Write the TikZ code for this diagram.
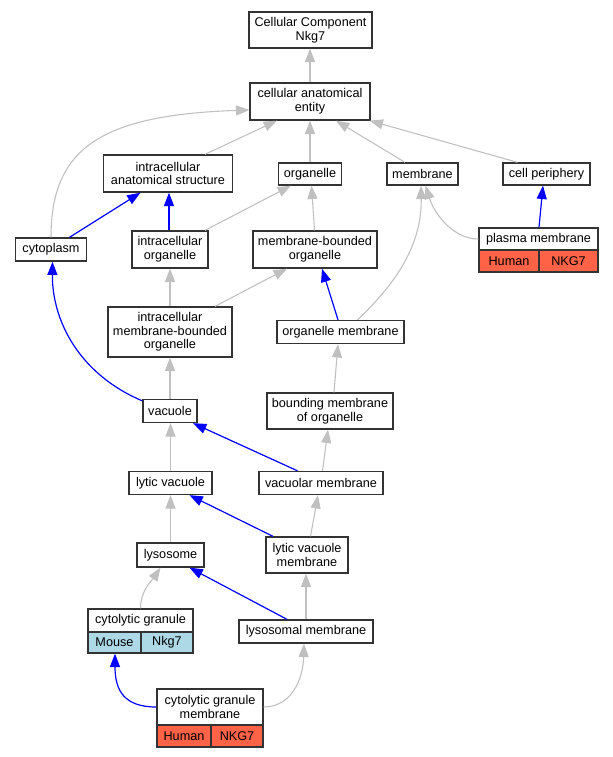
\documentclass[tikz,border=0pt]{standalone}
\usepackage{fontspec}
\setmainfont{Liberation Sans}
\usetikzlibrary{arrows.meta,calc}
\definecolor{edgegray}{HTML}{C0C0C0}
\definecolor{tomatored}{HTML}{FF6347}
\definecolor{lblue}{HTML}{ADD8E6}
\definecolor{boxline}{HTML}{333333}
\begin{document}
\begin{tikzpicture}[x=0.75pt,y=-0.75pt,
  box/.style={draw=boxline, line width=1pt, fill=white, inner sep=0pt, align=center, font=\fontsize{9.5}{10.2}\selectfont},
  sz/.style 2 args={minimum width=#1*0.75pt, minimum height=#2*0.75pt},
  gedge/.style={draw=edgegray, line width=0.8pt, -{Triangle[length=10pt,width=7.5pt,fill=edgegray]}},
  bedge/.style={draw=blue, line width=0.9pt, -{Triangle[length=10pt,width=7.5pt,fill=blue]}},
]
\useasboundingbox[fill=white] (0,0) rectangle (612,757);
\node[box,sz={123}{36}] (ccn) at (310.5,30) {Cellular Component\\Nkg7};
\node[box,sz={120}{37}] (cae) at (310,101.5) {cellular anatomical\\entity};
\node[box,sz={129}{37}] (ias) at (168,173.5) {intracellular\\anatomical structure};
\node[box,sz={63}{22}] (org) at (310,174) {organelle};
\node[box,sz={71}{22}] (mem) at (422.5,174) {membrane};
\node[box,sz={87}{22}] (cper) at (546.5,174) {cell periphery};
\node[box,sz={71}{23}] (cyto) at (51,249.5) {cytoplasm};
\node[box,sz={76}{37}] (io) at (170,249.5) {intracellular\\organelle};
\node[box,sz={124}{37}] (mbo) at (315,249.5) {membrane-bounded\\organelle};
\node[box,sz={119}{22}] (pm) at (538.5,239) {plasma membrane};
\node[box,fill=tomatored,sz={60}{22}] (pmh) at (509,261) {Human};
\node[box,fill=tomatored,sz={59}{22}] (pmg) at (568.5,261) {NKG7};
\node[box,sz={124}{50}] (imbo) at (170,332) {intracellular\\membrane-bounded\\organelle};
\node[box,sz={127}{23}] (om) at (340.5,332) {organelle membrane};
\node[box,sz={54}{23}] (vac) at (170,411) {vacuole};
\node[box,sz={126}{36}] (bmo) at (330,411) {bounding membrane\\of organelle};
\node[box,sz={83}{23}] (lv) at (170.5,483) {lytic vacuole};
\node[box,sz={124}{23}] (vm) at (321,483) {vacuolar membrane};
\node[box,sz={67}{24}] (lys) at (170.5,555) {lysosome};
\node[box,sz={82}{36}] (lvm) at (307,555) {lytic vacuole\\membrane};
\node[box,sz={105}{23}] (cg) at (140.5,620.5) {cytolytic granule};
\node[box,fill=lblue,sz={53}{21}] (cgmo) at (114.5,642.5) {Mouse};
\node[box,fill=lblue,sz={52}{21}] (cgnk) at (167,642.5) {Nkg7};
\node[box,sz={134}{23}] (lm) at (306,631.5) {lysosomal membrane};
\node[box,sz={106}{36}] (cgm) at (210,707) {cytolytic granule\\membrane};
\node[box,fill=tomatored,sz={54}{22}] (cgmh) at (184,736) {Human};
\node[box,fill=tomatored,sz={52}{22}] (cgmg) at (237,736) {NKG7};

\draw[gedge] (cae.north) -- (cae.north |- ccn.south);
\draw[gedge] (cyto.north) .. controls ($(cyto.north)+(0,-88)$) and ($(cae.west)+(-150,13.5)$) .. ($(cae.west)+(0,8.5)$);
\draw[gedge] ($(ias.north)+(37,0)$) -- ($(cae.south)+(-33,0)$);
\draw[gedge] (org.north) -- (org.north |- cae.south);
\draw[gedge] ($(mem.north)+(-17.5,0)$) -- ($(cae.south)+(26,0)$);
\draw[gedge] ($(cper.north)+(-29,0)$) -- ($(cae.south east)+(-1,0)$);
\draw[bedge] ($(cyto.north)+(18.5,0)$) -- ($(ias.south)+(-27.5,0)$);
\draw[bedge] ($(io.north)+(-1,0)$) -- ($(ias.south)+(1,0)$);
\draw[gedge] ($(io.north)+(35,0)$) -- ($(org.south)+(-19,0)$);
\draw[gedge] ($(mbo.north)+(-0.5,0)$) -- ($(org.south)+(1.5,0)$);
\draw[gedge] (pm.west) .. controls ($(pm.west)+(-24,0)$) and ($(mem.south)+(12.5,30)$) .. ($(mem.south)+(3,0)$);
\draw[bedge] ($(pm.north)+(0.5,0)$) -- ($(cper.south)+(-3.5,0)$);
\draw[gedge] ($(om.north)+(17,0)$) .. controls ($(om.north)+(54.5,-35.5)$) and ($(mem.south)+(-0.5,60)$) .. ($(mem.south)+(-1.5,0)$);
\draw[gedge] (imbo.north) -- (imbo.north |- io.south);
\draw[gedge] ($(imbo.north)+(45,0)$) -- ($(mbo.south)+(-28,0)$);
\draw[bedge] ($(om.north)+(-2.5,0)$) -- ($(mbo.south)+(7,0)$);
\draw[gedge] (vac.north) -- (vac.north |- imbo.south);
\draw[bedge] ($(vac.north west)+(0,2)$) .. controls ($(vac.north west)+(-63,-24.5)$) and ($(cyto.south)+(1,59)$) .. ($(cyto.south)+(1.5,0)$);
\draw[gedge] ($(bmo.north)+(4,0)$) -- ($(om.south)+(-2.5,0)$);
\draw[gedge] (lv.north) -- (lv.north |- vac.south);
\draw[bedge] ($(vm.north)+(-23.5,0)$) -- ($(vac.south)+(23,0)$);
\draw[gedge] ($(vm.north)+(1.5,0)$) -- ($(bmo.south)+(-2,0)$);
\draw[gedge] (lys.north) -- (lys.north |- lv.south);
\draw[bedge] ($(lvm.north)+(-34,0)$) -- ($(lv.south)+(19,0)$);
\draw[gedge] ($(lvm.north)+(3.5,0)$) -- ($(vm.south)+(-3,0)$);
\draw[gedge] (cg.north) .. controls ($(cg.north)+(0,-18)$) and ($(lys.south)+(-18,12)$) .. ($(lys.south)+(-10,0)$);
\draw[bedge] ($(lm.north)+(-19,0)$) -- ($(lys.south)+(19,0)$);
\draw[gedge] (lm.north) -- (lm.north |- lvm.south);
\draw[bedge] (cgm.west) .. controls ($(cgm.west)+(-32,0)$) and ($(cgmo.south)+(0.5,37)$) .. ($(cgmo.south)+(0.5,0)$);
\draw[gedge] (cgm.east) .. controls ($(cgm.east)+(27,0)$) and ($(lm.south)+(-3,37)$) .. ($(lm.south)+(-2,0)$);
\end{tikzpicture}
\end{document}
